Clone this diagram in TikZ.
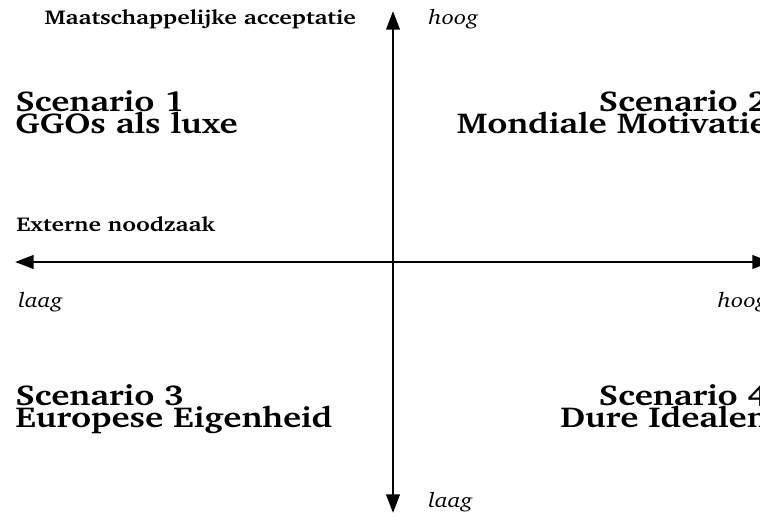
\documentclass[tikz,border=0pt]{standalone}
\usepackage[T1]{fontenc}
\usepackage{charter}
\usepackage{graphicx}
\usetikzlibrary{arrows.meta}
\newcommand\widetxt[1]{\scalebox{1.19}[1]{#1}}
\newcommand\widescen[1]{\scalebox{1.2}[1]{#1}}
\tikzset{
  axisline/.style={line width=2.2pt, {Triangle[length=14pt,width=10pt]}-{Triangle[length=14pt,width=10pt]}},
  scen/.style={font=\fontsize{21.6}{25}\selectfont\bfseries, inner sep=0pt},
  axlabel/.style={font=\fontsize{15}{18}\selectfont\bfseries, inner sep=0pt},
  endlabel/.style={font=\fontsize{15.5}{18}\selectfont\itshape, inner sep=0pt}
}
\begin{document}
\begin{tikzpicture}[x=0.75pt,y=-0.75pt]
  \clip (0,0) rectangle (760,520);
  \useasboundingbox (0,0) rectangle (760,520);
  % axis end points
  \coordinate (vtop) at (393,11);
  \coordinate (vbot) at (393,513);
  \coordinate (hleft) at (15,262);
  \coordinate (hright) at (771,262);
  \draw[axisline] (vbot) -- (vtop);
  \draw[axisline] (hleft) -- (hright);
  % axis labels
  \node[axlabel, anchor=base east] (maat) at (356,25) {\widetxt{Maatschappelijke acceptatie}};
  \node[endlabel, anchor=base west] (vhoog) at (428,25) {\widetxt{hoog}};
  \node[endlabel, anchor=base west] (vlaag) at (428,507) {\widetxt{laag}};
  \node[axlabel, anchor=base west] (ext) at (16,232) {\widetxt{Externe noodzaak}};
  \node[endlabel, anchor=base west] (hlaag) at (18,307) {\widetxt{laag}};
  \node[endlabel, anchor=base east] (hhoog) at (768,307) {\widetxt{hoog}};
  % scenarios
  \node[scen, anchor=base west] (s1a) at (15,112) {\widescen{Scenario 1}};
  \node[scen, anchor=base west] (s1b) at (15,134) {\widescen{GGOs als luxe}};
  \node[scen, anchor=base east] (s2a) at (768,112) {\widescen{Scenario 2}};
  \node[scen, anchor=base east] (s2b) at (768,134) {\widescen{Mondiale Motivatie}};
  \node[scen, anchor=base west] (s3a) at (15,405) {\widescen{Scenario 3}};
  \node[scen, anchor=base west] (s3b) at (15,427) {\widescen{Europese Eigenheid}};
  \node[scen, anchor=base east] (s4a) at (768,405) {\widescen{Scenario 4}};
  \node[scen, anchor=base east] (s4b) at (768,427) {\widescen{Dure Idealen}};
\end{tikzpicture}
\end{document}
